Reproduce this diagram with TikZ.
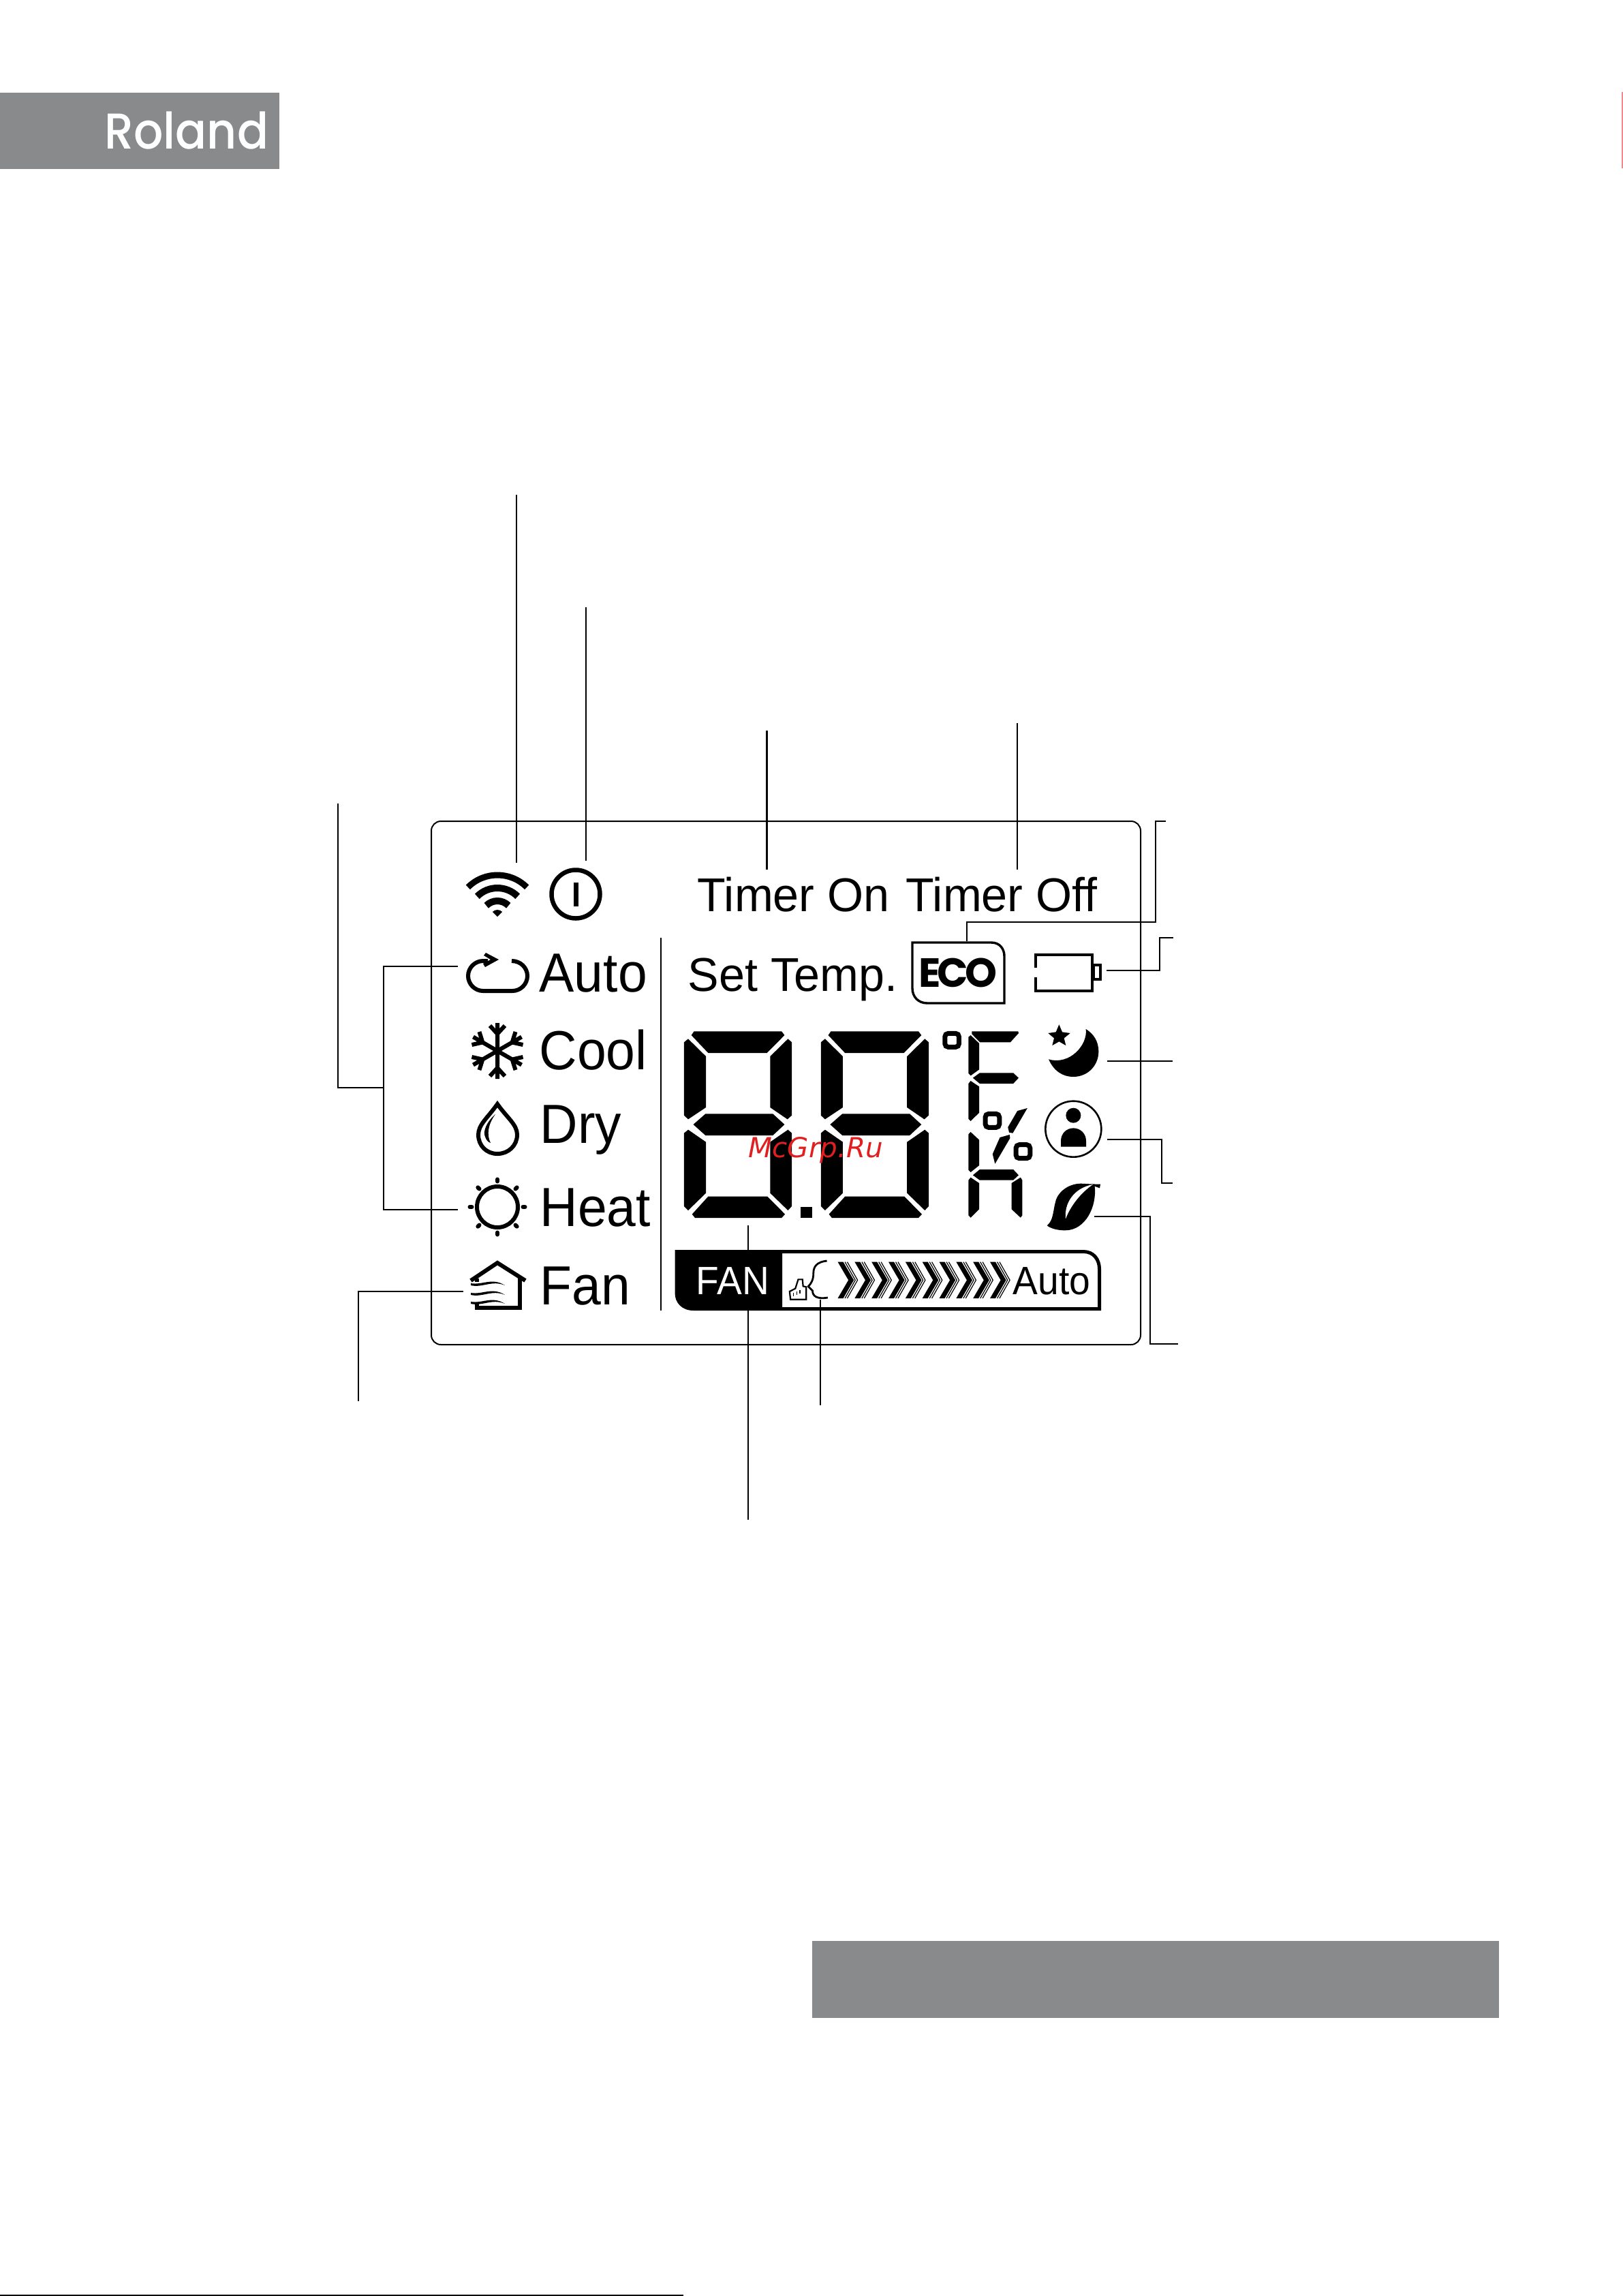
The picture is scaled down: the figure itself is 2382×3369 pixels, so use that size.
\documentclass[tikz,border=0pt]{standalone}
\usepackage{fontspec}
\usepackage{xcolor}
\setmainfont{Liberation Sans}
\newfontfamily\lcdfont[FakeStretch=0.95]{Liberation Sans}
\newfontfamily\widefont[FakeStretch=0.98]{Liberation Sans}
\newfontfamily\logofont[FakeStretch=0.92]{Poppins Medium}
\newfontfamily\ecofont{Poppins}
\newfontfamily\markfont{DejaVu Sans}
\definecolor{plategray}{HTML}{898A8C}
\definecolor{markred}{HTML}{E02020}
\definecolor{edgepink}{HTML}{F08A8A}
\tikzset{
  lw/.style={line width=#1*0.2845pt},
  conn/.style={lw=2.5},
  modetext/.style={anchor=base west,inner sep=0pt,font=\lcdfont\fontsize{23}{28}\selectfont},
  lcdtext/.style={anchor=base west,inner sep=0pt,font=\widefont\fontsize{19.8}{24}\selectfont},
  bartext/.style={anchor=base west,inner sep=0pt,font=\lcdfont\fontsize{16.5}{20}\selectfont}
}
\begin{document}
\begin{tikzpicture}[x=0.01cm,y=-0.01cm]
\useasboundingbox (0,0) rectangle (2382,3369);
\fill[plategray] (0,136) rectangle (410,248);
\fill[plategray] (1192,2848) rectangle (2200,2961);
\fill[black] (0,3367) rectangle (1003,3369);
\fill[edgepink] (2380,135) rectangle (2382,247);
\node[anchor=base west,inner sep=0pt,text=white,font=\logofont\fontsize{21}{24}\selectfont] (logo) at (153,218) {Roland};
\draw[lw=2,rounded corners=4pt] (633,1205) rectangle (1674,1973);
\draw[lw=2.5] (970,1376) -- (970,1923);

\coordinate (wifitop) at (758,726);
\coordinate (wifipin) at (758,1266);
\coordinate (powertop) at (860,891);
\coordinate (powerpin) at (860,1263);
\coordinate (ontop) at (1125.5,1072);
\coordinate (onpin) at (1125.5,1276);
\coordinate (offtop) at (1493,1061);
\coordinate (offpin) at (1493,1276);
\coordinate (modeend) at (496,1179);
\coordinate (modejoin) at (563,1596);
\coordinate (autopin) at (672,1418);
\coordinate (heatpin) at (672,1775);
\coordinate (fanpin) at (680,1895);
\coordinate (fanend) at (526,2056);
\coordinate (digitpin) at (1098,1798);
\coordinate (digitend) at (1098,2230);
\coordinate (voicepin) at (1204,1907);
\coordinate (voiceend) at (1204,2062);
\coordinate (ecopin) at (1419,1381);
\coordinate (ecoend) at (1711,1205);
\coordinate (ecoelbow) at (1696,1353);
\coordinate (batpin) at (1624,1424);
\coordinate (batend) at (1722,1376);
\coordinate (batelbow) at (1702,1424);
\coordinate (moonpin) at (1625,1557);
\coordinate (moonend) at (1721,1557);
\coordinate (userpin) at (1625,1672);
\coordinate (userend) at (1721,1736);
\coordinate (userelbow) at (1705,1672);
\coordinate (leafpin) at (1606,1785);
\coordinate (leafend) at (1729,1972);
\coordinate (leafelbow) at (1688,1785);

\draw[conn] (wifitop) -- (wifipin);
\draw[conn] (powertop) -- (powerpin);
\draw[conn] (ontop) -- (onpin);
\draw[conn] (offtop) -- (offpin);
\draw[conn] (modeend) |- (modejoin);
\draw[conn] (autopin) -| (modejoin) |- (heatpin);
\draw[conn] (fanpin) -| (fanend);
\draw[conn] (digitpin) -- (digitend);
\draw[conn] (voicepin) -- (voiceend);
\draw[conn] (ecopin) |- (ecoelbow) |- (ecoend);
\draw[conn] (batpin) -- (batelbow) |- (batend);
\draw[conn] (moonpin) -- (moonend);
\draw[conn] (userpin) -- (userelbow) |- (userend);
\draw[conn] (leafpin) -- (leafelbow) |- (leafend);

\node[modetext] (auto) at (791,1455) {Auto};
\node[modetext] (cool) at (791,1569) {Cool};
\node[modetext] (dry) at (792,1677) {Dry};
\node[modetext] (heat) at (792,1799) {Heat};
\node[modetext] (fan) at (792,1914) {Fan};
\node[lcdtext] (timeron) at (1023,1337) {Timer On};
\node[lcdtext] (timeroff) at (1329,1337) {Timer Off};
\node[lcdtext] (settemp) at (1009,1454) {Set Temp.};

% wifi and power
\foreach \r/\w in {61/9,42/10,23/10}
\draw[lw=\w] (730,1345) ++(225:\r) arc (225:315:\r);
\fill (730,1345) -- ++(225:10) arc (225:315:10) -- cycle;
\draw[lw=6.5] (845,1312) circle (35.5);
\fill (842,1295) rectangle (849,1330);

% mode icons
\draw[lw=6] (716,1410) -- (709,1410) .. controls (697,1410) and (687,1420) .. (687,1432) .. controls (687,1444) and (697,1454) .. (709,1454) -- (752,1454) .. controls (764,1454) and (774,1444) .. (774,1432) .. controls (774,1420) and (764,1410) .. (751,1410);
\fill (713,1398) -- (732,1408) -- (712,1419) -- (709,1414) -- (720,1408) -- (710,1402) -- cycle;
\foreach \a in {0,60,...,300}
\draw[lw=6,shift={(730,1542)},rotate=\a] (0,0) -- (0,-41) (-11,-37) -- (0,-25) -- (11,-37);
\draw[lw=6] (730,1620) .. controls (716,1640) and (702,1650) .. (702,1665) .. controls (702,1681) and (714,1693) .. (730,1693) .. controls (746,1693) and (759,1681) .. (759,1665) .. controls (759,1650) and (744,1640) .. (730,1620) -- cycle;
\fill (727,1635) .. controls (715,1645) and (708,1660) .. (712,1668) .. controls (714,1674) and (717,1676) .. (720,1677) .. controls (714,1665) and (716,1650) .. (727,1635) -- cycle;
\draw[lw=6] (730,1771) circle (30);
\foreach \a in {0,45,...,315}
\draw[lw=6,line cap=round,shift={(730,1771)},rotate=\a] (37.5,0) -- (40.5,0);
\draw[lw=6] (691,1879) -- (730,1853) -- (771,1879);
\draw[lw=6] (700,1876) -- (700,1881) (763,1875) -- (763,1919) -- (700,1919) -- (700,1913);
\foreach \o in {0,14,27}
\fill[shift={(0,\o)}] (691,1883) .. controls (708,1886) and (722,1874) .. (741,1886) .. controls (722,1878) and (708,1890) .. (691,1886) -- cycle;

% big digits and side segments
\begin{scope}[shift={(980,1480)},xscale=1/2.8,yscale=1/3]
\foreach \dx in {0,562.5}{
\begin{scope}[shift={(\dx,0)}]
\fill (108,100) -- (468,100) -- (480,117) -- (408,195) -- (166,195) -- (97,117) -- cycle;
\fill (67,148) -- (84,133) -- (157,210) -- (157,435) -- (84,487) -- (67,470) -- cycle;
\fill (510,148) -- (494,133) -- (421,210) -- (421,435) -- (492,487) -- (510,470) -- cycle;
\fill (105,510) -- (155,463) -- (432,463) -- (480,510) -- (432,558) -- (155,558) -- cycle;
\fill (67,548) -- (84,533) -- (157,587) -- (157,812) -- (84,888) -- (67,870) -- cycle;
\fill (510,548) -- (494,533) -- (421,587) -- (421,812) -- (494,888) -- (510,870) -- cycle;
\fill (100,905) -- (166,827) -- (410,827) -- (482,905) -- (468,921) -- (112,921) -- cycle;
\end{scope}}
\fill (546,873) rectangle (594,921);
\foreach \x/\y in {1139/109,1305/463,1431/599}
\draw[lw=7,rounded corners=1.4pt] (\x,\y) rectangle ++(58,60);
\fill (1250,100) -- (1440,100) -- (1442,108) -- (1408,148) -- (1283,148) -- (1250,112) -- cycle;
\fill (1236,125) -- (1245,117) -- (1280,153) -- (1280,268) -- (1245,295) -- (1236,285) -- cycle;
\fill (1254,305) -- (1282,283) -- (1420,283) -- (1442,305) -- (1420,330) -- (1282,330) -- cycle;
\fill (1236,330) -- (1245,318) -- (1280,343) -- (1280,458) -- (1245,495) -- (1236,485) -- cycle;
\fill (1236,553) -- (1245,543) -- (1280,578) -- (1280,690) -- (1245,720) -- (1236,710) -- cycle;
\fill (1254,733) -- (1282,708) -- (1420,708) -- (1442,733) -- (1420,755) -- (1282,755) -- cycle;
\fill (1236,755) -- (1245,743) -- (1280,768) -- (1280,883) -- (1245,920) -- (1236,910) -- cycle;
\fill (1457,755) -- (1450,743) -- (1413,768) -- (1413,883) -- (1450,920) -- (1457,910) -- cycle;
\fill (1437,450) -- (1478,438) -- (1418,548) -- (1403,545) -- (1398,522) -- cycle;
\fill (1365,567) -- (1405,555) -- (1407,570) -- (1345,683) -- (1335,640) -- cycle;
\end{scope}

% eco and battery
\draw[lw=3.4] (1339,1383) -- (1455,1383) .. controls (1467,1383) and (1474,1392) .. (1474,1403) -- (1474,1472) -- (1361,1472) .. controls (1348,1472) and (1339,1463) .. (1339,1450) -- cycle;
\node[anchor=base,inner sep=0pt,font=\ecofont\bfseries\fontsize{17}{20}\selectfont] (eco) at (1406,1448) {E\kern-.09em C\kern-.09em O};
\draw[lw=4.3] (1520,1420) -- (1520,1401) -- (1603,1401) -- (1603,1454) -- (1520,1454) -- (1520,1434);
\draw[lw=4] (1605,1416) rectangle (1615,1437);

% moon, user, leaf
\begin{scope}[shift={(1500,1460)},scale=1/3]
\fill (281,150) .. controls (290,220) and (210,310) .. (117,283) .. controls (140,335) and (180,360) .. (225,360) .. controls (290,360) and (337,310) .. (337,248) .. controls (337,205) and (315,170) .. (281,150) -- cycle;
\fill (163,130) -- (177,163) -- (212,168) -- (185,190) -- (193,222) -- (163,205) -- (133,222) -- (141,190) -- (115,168) -- (149,163) -- cycle;
\draw[lw=2.6] (226,590) circle (123);
\fill (226,530) circle (33);
\fill (171,668) -- (171,642) .. controls (171,610) and (195,586) .. (226,586) .. controls (257,586) and (282,610) .. (282,642) -- (282,668) -- cycle;
\fill (110,1015) .. controls (140,990) and (135,950) .. (150,900) .. controls (165,860) and (210,830) .. (260,830) -- (300,832) -- (345,833) -- (342,850) -- (320,842) .. controls (330,930) and (280,1036) .. (190,1036) .. controls (160,1036) and (130,1030) .. (110,1015) -- cycle;
\fill[white] (192,985) .. controls (185,920) and (225,850) .. (312,834) .. controls (260,870) and (215,925) .. (192,985) -- cycle;
\end{scope}

% fan bar
\fill (990.5,1834) -- (1148,1834) -- (1148,1923) -- (1018,1923) .. controls (1001,1923) and (990.5,1912) .. (990.5,1897) -- cycle;
\draw[lw=5] (1148,1836.5) -- (1590,1836.5) .. controls (1605,1836.5) and (1613.5,1848) .. (1613.5,1862) -- (1613.5,1920.5) -- (1148,1920.5);
\node[bartext,text=white] (fanlabel) at (1021,1899) {FAN};
\node[bartext] (barauto) at (1486,1899) {Auto};
\begin{scope}[shift={(980,1800)},xscale=1/2.376,yscale=1/3]
\draw[lw=2.8] (555,150) .. controls (520,155) and (508,175) .. (508,205) .. controls (508,235) and (500,250) .. (490,263) -- (505,282) .. controls (505,305) and (520,320) .. (558,312);
\draw[lw=2.2] (428,320) -- (425,285) -- (445,272) -- (455,232) -- (470,232) -- (472,262) -- (483,265) -- (483,320) -- cycle;
\draw[lw=1.2] (438,290) -- (438,305) (450,285) -- (450,300) (461,280) -- (461,295);
\foreach \x in {593,652,711,770,829,888,947,1006,1065,1124}{
\fill (\x,155) -- ({\x+19},155) -- ({\x+56},235) -- ({\x+19},315) -- (\x,315) -- ({\x+37},235) -- cycle;
\draw[lw=1.2] ({\x+25},155) -- ({\x+61},235) -- ({\x+25},315);
\draw[lw=1.2] ({\x+33},155) -- ({\x+69},235) -- ({\x+33},315);
}
\end{scope}

\node[anchor=base west,inner sep=0pt,text=markred,font=\markfont\itshape\fontsize{11.5}{13}\selectfont] (mark) at (1098,1698) {McGrp.Ru};
\end{tikzpicture}
\end{document}
